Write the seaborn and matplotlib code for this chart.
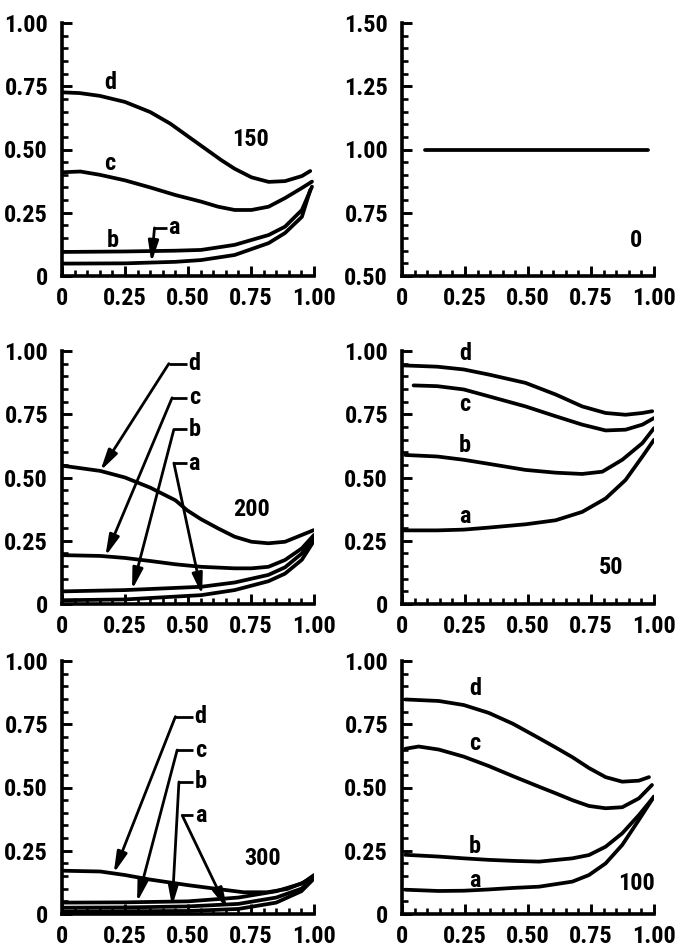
import numpy as np
import pandas as pd
import matplotlib
matplotlib.use("Agg")
import matplotlib.pyplot as plt
from matplotlib import font_manager as fm
from matplotlib.ticker import MultipleLocator, FixedLocator
import seaborn as sns

sns.set_theme(style="ticks")


def pick_condensed_bold():
    """Return the first condensed family that ships a bold face."""
    candidates = ["Roboto Condensed", "Archivo Narrow", "PT Sans Narrow",
                  "Barlow Semi Condensed", "Barlow Condensed", "Encode Sans Condensed",
                  "IBM Plex Sans Condensed", "Fira Sans Condensed", "Saira Condensed",
                  "Liberation Sans Narrow", "Open Sans Condensed"]
    bold = {}
    for f in fm.fontManager.ttflist:
        w = f.weight if isinstance(f.weight, int) else 700 if "bold" in str(f.weight) else 400
        if w >= 700:
            bold[f.name] = True
    for name in candidates:
        if name in bold:
            return name
    return "DejaVu Sans"


FONT = pick_condensed_bold()
FAMILY = [FONT, "DejaVu Sans"]
plt.rcParams["font.family"] = FAMILY
plt.rcParams["font.weight"] = "bold"

# ---------------- data: one profile set per panel ----------------
# panel 150
x150_d = [0.0, 0.07, 0.15, 0.25, 0.35, 0.43, 0.5, 0.552, 0.632, 0.685, 0.752, 0.82, 0.885, 0.952, 0.985]
y150_d = [0.726, 0.723, 0.712, 0.688, 0.648, 0.602, 0.552, 0.515, 0.458, 0.424, 0.39, 0.372, 0.375, 0.395, 0.415]
x150_c = [0.0, 0.073, 0.15, 0.25, 0.35, 0.45, 0.552, 0.619, 0.685, 0.752, 0.82, 0.885, 0.952, 0.992]
y150_c = [0.41, 0.413, 0.40, 0.378, 0.35, 0.32, 0.294, 0.274, 0.261, 0.261, 0.274, 0.308, 0.348, 0.373]
x150_b = [0.0, 0.25, 0.45, 0.552, 0.685, 0.82, 0.885, 0.952, 0.992]
y150_b = [0.095, 0.097, 0.10, 0.103, 0.123, 0.162, 0.195, 0.261, 0.353]
x150_a = [0.0, 0.25, 0.45, 0.552, 0.685, 0.82, 0.885, 0.952, 0.985]
y150_a = [0.049, 0.05, 0.056, 0.063, 0.083, 0.13, 0.17, 0.234, 0.34]

# panel 0
x0_line = [0.093, 0.976]
y0_line = [1.0, 1.0]

# panel 200
x200_d = [0.007, 0.152, 0.25, 0.35, 0.45, 0.497, 0.552, 0.619, 0.685, 0.752, 0.819, 0.885, 0.952, 0.999]
y200_d = [0.546, 0.526, 0.5, 0.46, 0.41, 0.37, 0.335, 0.299, 0.266, 0.246, 0.24, 0.246, 0.273, 0.292]
x200_c = [0.007, 0.152, 0.25, 0.35, 0.45, 0.552, 0.685, 0.752, 0.819, 0.885, 0.952, 1.0]
y200_c = [0.193, 0.19, 0.182, 0.17, 0.157, 0.147, 0.141, 0.141, 0.147, 0.174, 0.22, 0.273]
x200_b = [0.007, 0.25, 0.552, 0.685, 0.819, 0.885, 0.952, 1.0]
y200_b = [0.05, 0.055, 0.068, 0.085, 0.115, 0.145, 0.2, 0.26]
x200_a = [0.007, 0.25, 0.552, 0.685, 0.819, 0.885, 0.952, 1.0]
y200_a = [0.015, 0.018, 0.035, 0.055, 0.09, 0.12, 0.175, 0.25]

# panel 50
x50_d = [0.007, 0.14, 0.245, 0.344, 0.49, 0.61, 0.715, 0.808, 0.887, 0.954, 0.993]
y50_d = [0.943, 0.938, 0.927, 0.907, 0.874, 0.828, 0.781, 0.755, 0.748, 0.755, 0.762]
x50_c = [0.046, 0.14, 0.245, 0.344, 0.49, 0.61, 0.715, 0.808, 0.887, 0.954, 1.0]
y50_c = [0.864, 0.861, 0.848, 0.821, 0.781, 0.742, 0.709, 0.686, 0.689, 0.709, 0.735]
x50_b = [0.013, 0.14, 0.245, 0.344, 0.49, 0.61, 0.715, 0.795, 0.874, 0.954, 1.0]
y50_b = [0.589, 0.583, 0.57, 0.554, 0.53, 0.519, 0.514, 0.523, 0.57, 0.636, 0.695]
x50_a = [0.007, 0.14, 0.245, 0.344, 0.49, 0.61, 0.715, 0.808, 0.887, 0.954, 1.0]
y50_a = [0.291, 0.291, 0.294, 0.302, 0.315, 0.331, 0.364, 0.417, 0.49, 0.583, 0.649]

# panel 300
x300_d = [0.007, 0.152, 0.25, 0.35, 0.5, 0.616, 0.72, 0.815, 0.894, 0.96, 1.0]
y300_d = [0.171, 0.168, 0.154, 0.136, 0.114, 0.099, 0.086, 0.086, 0.099, 0.125, 0.154]
x300_c = [0.007, 0.25, 0.5, 0.7, 0.85, 0.95, 1.0]
y300_c = [0.045, 0.046, 0.05, 0.065, 0.09, 0.12, 0.15]
x300_b = [0.007, 0.25, 0.5, 0.7, 0.85, 0.95, 1.0]
y300_b = [0.025, 0.026, 0.03, 0.04, 0.065, 0.1, 0.145]
x300_a = [0.007, 0.25, 0.5, 0.7, 0.85, 0.95, 1.0]
y300_a = [0.01, 0.011, 0.012, 0.02, 0.045, 0.09, 0.14]

# panel 100
x100_d = [0.013, 0.146, 0.245, 0.344, 0.44, 0.544, 0.61, 0.676, 0.742, 0.808, 0.874, 0.94, 0.98]
y100_d = [0.848, 0.842, 0.826, 0.795, 0.752, 0.695, 0.658, 0.62, 0.577, 0.541, 0.523, 0.527, 0.541]
x100_c = [0.013, 0.066, 0.146, 0.245, 0.344, 0.44, 0.544, 0.61, 0.676, 0.742, 0.808, 0.874, 0.94, 0.992]
y100_c = [0.653, 0.662, 0.65, 0.622, 0.585, 0.545, 0.503, 0.477, 0.45, 0.427, 0.418, 0.422, 0.457, 0.51]
x100_b = [0.013, 0.146, 0.245, 0.344, 0.44, 0.544, 0.676, 0.742, 0.808, 0.874, 0.94, 1.0]
y100_b = [0.234, 0.227, 0.22, 0.214, 0.21, 0.207, 0.22, 0.233, 0.266, 0.319, 0.391, 0.464]
x100_a = [0.013, 0.146, 0.245, 0.344, 0.44, 0.544, 0.676, 0.742, 0.808, 0.874, 0.94, 1.0]
y100_a = [0.096, 0.091, 0.092, 0.097, 0.103, 0.108, 0.128, 0.154, 0.2, 0.273, 0.372, 0.464]

x_ticks = [0, 0.25, 0.50, 0.75, 1.00]
x_ticklabels = ["0", "0.25", "0.50", "0.75", "1.00"]
y_ticks_std = [0, 0.25, 0.50, 0.75, 1.00]
y_ticklabels_std = ["0", "0.25", "0.50", "0.75", "1.00"]
y_ticks_zero = [0.50, 0.75, 1.00, 1.25, 1.50]
y_ticklabels_zero = ["0.50", "0.75", "1.00", "1.25", "1.50"]

panels = [
    dict(title="150", curves={"a": (x150_a, y150_a), "b": (x150_b, y150_b),
                               "c": (x150_c, y150_c), "d": (x150_d, y150_d)},
         title_pos=(0.75, 0.54),
         plain_labels={"d": (0.19, 0.765), "c": (0.19, 0.445), "b": (0.20, 0.14)},
         leaders={"a": ((0.445, 0.19), 0.367, 0.355)}),
    dict(title="0", curves={"line": (x0_line, y0_line)},
         title_pos=(0.93, 0.64), plain_labels={}, leaders={}),
    dict(title="200", curves={"a": (x200_a, y200_a), "b": (x200_b, y200_b),
                               "c": (x200_c, y200_c), "d": (x200_d, y200_d)},
         title_pos=(0.75, 0.375), plain_labels={},
         leaders={"d": ((0.525, 0.95), 0.424, 0.152),
                  "c": ((0.525, 0.815), 0.437, 0.172),
                  "b": ((0.525, 0.69), 0.444, 0.278),
                  "a": ((0.525, 0.557), 0.444, 0.556)}),
    dict(title="50", curves={"a": (x50_a, y50_a), "b": (x50_b, y50_b),
                              "c": (x50_c, y50_c), "d": (x50_d, y50_d)},
         title_pos=(0.83, 0.146),
         plain_labels={"d": (0.25, 0.99), "c": (0.25, 0.79), "b": (0.25, 0.625), "a": (0.25, 0.345)},
         leaders={}),
    dict(title="300", curves={"a": (x300_a, y300_a), "b": (x300_b, y300_b),
                               "c": (x300_c, y300_c), "d": (x300_d, y300_d)},
         title_pos=(0.795, 0.22), plain_labels={},
         leaders={"d": ((0.55, 0.78), 0.45, 0.205),
                  "c": ((0.55, 0.648), 0.457, 0.298),
                  "b": ((0.55, 0.522), 0.464, 0.437),
                  "a": ((0.55, 0.39), 0.477, 0.656)}),
    dict(title="100", curves={"a": (x100_a, y100_a), "b": (x100_b, y100_b),
                               "c": (x100_c, y100_c), "d": (x100_d, y100_d)},
         title_pos=(0.93, 0.12),
         plain_labels={"d": (0.29, 0.89), "c": (0.29, 0.675), "b": (0.29, 0.265), "a": (0.29, 0.133)},
         leaders={}),
]

# ---------------- layout ----------------
W, H = 680, 950
fig = plt.figure(figsize=(W / 100, H / 100), dpi=100)
col_left = [62, 402]
ax_w = 252
row_bottom = [276, 604, 914]
ax_h = 253

FS = 17.5 if FONT != "DejaVu Sans" else 13
WEIGHT = 800
text_kw = dict(fontsize=FS, fontweight=WEIGHT, color="black", family=FAMILY)

for i, p in enumerate(panels):
    r, c = divmod(i, 2)
    left = col_left[c] / W
    bottom = 1 - row_bottom[r] / H
    ax = fig.add_axes([left, bottom, ax_w / W, ax_h / H])

    rows = []
    for name, (xs, ys) in p["curves"].items():
        for xv, yv in zip(xs, ys):
            rows.append(dict(x=xv, y=yv, curve=name))
    df = pd.DataFrame(rows)
    sns.lineplot(data=df, x="x", y="y", units="curve", estimator=None,
                 sort=False, color="black", lw=2.7, ax=ax,
                 solid_capstyle="round", solid_joinstyle="round")

    is_zero = p["title"] == "0"
    ax.set_xlim(0, 1.0)
    if is_zero:
        ax.set_ylim(0.5, 1.5)
        ax.yaxis.set_major_locator(FixedLocator(y_ticks_zero))
        ax.set_yticklabels(y_ticklabels_zero)
    else:
        ax.set_ylim(0, 1.0)
        ax.yaxis.set_major_locator(FixedLocator(y_ticks_std))
        ax.set_yticklabels(y_ticklabels_std)
    ax.xaxis.set_major_locator(FixedLocator(x_ticks))
    ax.set_xticklabels(x_ticklabels)
    ax.xaxis.set_minor_locator(MultipleLocator(0.05))
    ax.yaxis.set_minor_locator(MultipleLocator(0.05))

    ax.set_xlabel("")
    ax.set_ylabel("")
    ax.set_facecolor("white")
    sns.despine(ax=ax)
    for s in ("left", "bottom"):
        ax.spines[s].set_linewidth(2.6)
        ax.spines[s].set_color("black")
    ax.tick_params(which="major", direction="in", length=7.5, width=2.1, color="black",
                   labelsize=FS, labelcolor="black")
    ax.tick_params(which="minor", direction="in", length=4.5, width=1.9, color="black")
    ax.tick_params(axis="y", which="major", pad=10)
    ax.tick_params(axis="x", which="major", pad=8)
    for lab in ax.get_xticklabels() + ax.get_yticklabels():
        lab.set_fontweight(WEIGHT)
        lab.set_family(FAMILY)

    # panel parameter label
    ax.text(*p["title_pos"], p["title"], ha="center", va="center", **text_kw)

    # curve letters placed beside their curves
    for name, (tx, ty) in p["plain_labels"].items():
        ax.text(tx, ty, name, ha="center", va="center", **text_kw)

    # curve letters connected by a leader and arrow
    for name, ((tx, ty), knee_x, tip_x) in p["leaders"].items():
        xs, ys = p["curves"][name]
        tip_y = float(np.interp(tip_x, xs, ys))
        ax.text(tx, ty, name, ha="center", va="center", **text_kw)
        ax.plot([knee_x, tx - 0.03], [ty, ty], color="black", lw=2.0,
                solid_capstyle="butt")
        ax.annotate("", xy=(tip_x, tip_y), xytext=(knee_x, ty),
                    arrowprops=dict(arrowstyle="-|>,head_length=0.9,head_width=0.22",
                                    color="black", lw=2.0, shrinkA=0, shrinkB=0,
                                    mutation_scale=14))

fig.savefig("out.png", dpi=100, facecolor="white")
